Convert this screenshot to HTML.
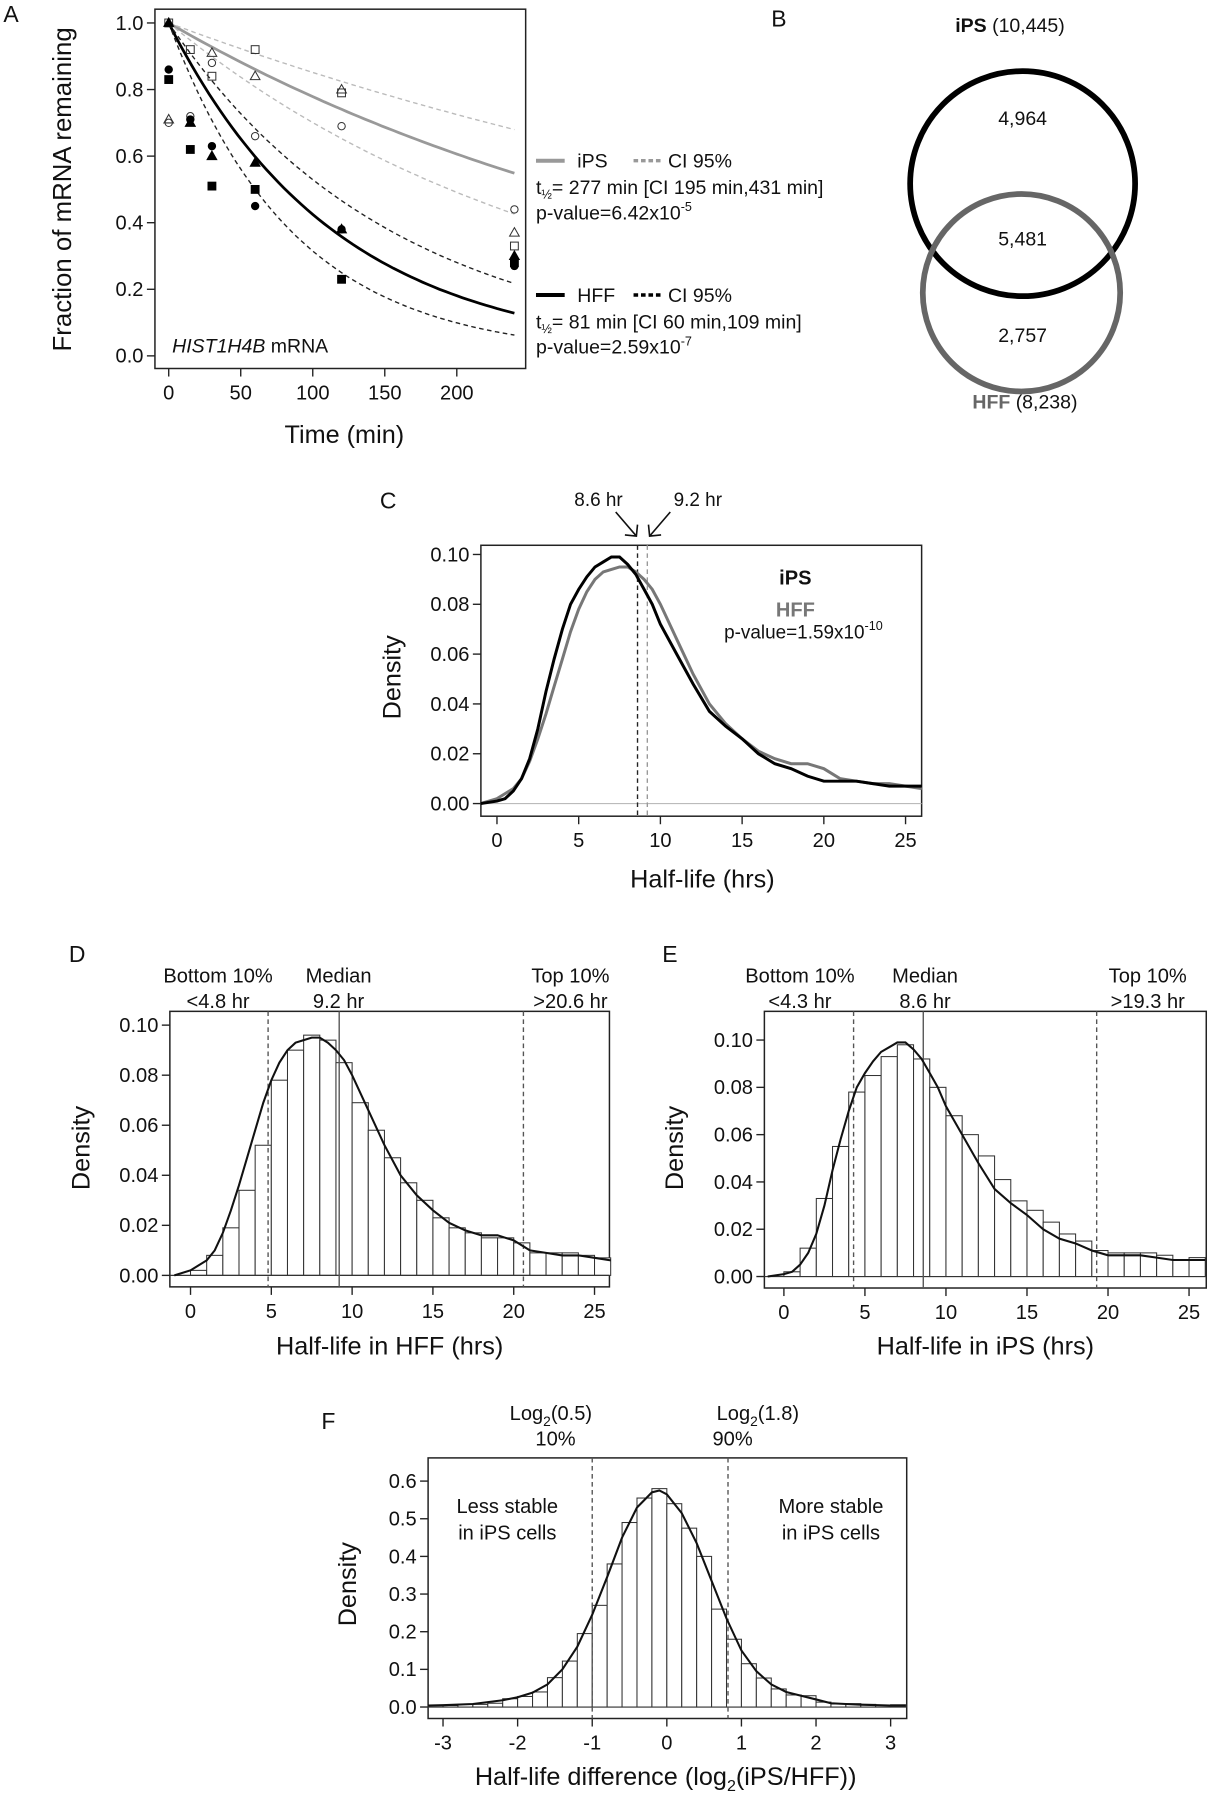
<!DOCTYPE html>
<html><head><meta charset="utf-8"><style>
html,body{margin:0;padding:0;background:#fff;}
svg{display:block;font-family:"Liberation Sans",Arial,sans-serif;}
</style></head><body>
<svg id="fig" width="1212" height="1800" viewBox="0 0 1056 1568" preserveAspectRatio="none" xmlns="http://www.w3.org/2000/svg">
<rect x="0" y="0" width="1056" height="1568" fill="#fff"/>
</svg>
<script>
// ---------- Panel A data ----------
const aTimes = [0, 15, 30, 60, 120, 240];
const aOpenCircle = [0.70, 0.72, 0.88, 0.66, 0.69, 0.44];
const aOpenTriangle = [0.71, 0.70, 0.91, 0.84, 0.80, 0.37];
const aOpenSquare = [1.0, 0.92, 0.84, 0.92, 0.79, 0.33];
const aFillCircle = [0.86, 0.71, 0.63, 0.45, 0.38, 0.27];
const aFillTriangle = [1.0, 0.70, 0.60, 0.58, 0.38, 0.30];
const aFillSquare = [0.83, 0.62, 0.51, 0.50, 0.23, 0.28];
const aHalfLives = [277, 195, 431, 81, 60, 109];
const aXTicks = [0, 50, 100, 150, 200];
const aYTicks = [0.0, 0.2, 0.4, 0.6, 0.8, 1.0];
// ---------- Panel B data ----------
const vennCounts = ["4,964", "5,481", "2,757"];
const vennTotals = ["(10,445)", "(8,238)"];
// ---------- Panel C data ----------
const kdeX = [-1,0,0.5,1,1.5,2,2.5,3,3.5,4,4.5,5,5.5,6,6.5,7,7.5,8,8.5,9,9.5,10,11,12,13,14,15,16,17,18,19,20,21,22,23,24,25,26];
const ipsKde = [0,0.001,0.002,0.005,0.010,0.018,0.030,0.045,0.058,0.070,0.080,0.086,0.091,0.095,0.097,0.099,0.099,0.096,0.092,0.086,0.080,0.072,0.060,0.048,0.037,0.031,0.026,0.020,0.016,0.014,0.011,0.009,0.009,0.009,0.008,0.007,0.007,0.007];
const hffKde = [0,0.002,0.004,0.006,0.010,0.017,0.026,0.036,0.047,0.058,0.069,0.078,0.085,0.090,0.093,0.094,0.095,0.095,0.093,0.090,0.086,0.080,0.066,0.052,0.040,0.032,0.026,0.021,0.018,0.016,0.016,0.014,0.010,0.009,0.008,0.008,0.007,0.006];
const cMedians = [8.6, 9.2];
const halfTicks = [0, 5, 10, 15, 20, 25];
const densTicks = [0.00, 0.02, 0.04, 0.06, 0.08, 0.10];
// ---------- Panel D/E data ----------
const histEdges = [0,1,2,3,4,5,6,7,8,9,10,11,12,13,14,15,16,17,18,19,20,21,22,23,24,25];
const hffHist = [0.002,0.008,0.019,0.034,0.052,0.078,0.090,0.096,0.094,0.085,0.069,0.058,0.047,0.037,0.030,0.023,0.019,0.017,0.015,0.015,0.013,0.009,0.009,0.009,0.008,0.007];
const ipsHist = [0.002,0.012,0.033,0.055,0.078,0.085,0.093,0.098,0.092,0.080,0.068,0.060,0.051,0.041,0.032,0.028,0.023,0.018,0.015,0.011,0.010,0.010,0.010,0.009,0.007,0.008];
const hffLines = [4.8, 9.2, 20.6];
const ipsLines = [4.3, 8.6, 19.3];
// ---------- Panel F data ----------
const fEdges = [-3.2,-3.0,-2.8,-2.6,-2.4,-2.2,-2.0,-1.8,-1.6,-1.4,-1.2,-1.0,-0.8,-0.6,-0.4,-0.2,0,0.2,0.4,0.6,0.8,1.0,1.2,1.4,1.6,1.8,2.0,2.2,2.4,2.6,2.8,3.0];
const fHist = [0.004,0.004,0.007,0.007,0.010,0.022,0.028,0.040,0.078,0.122,0.195,0.270,0.380,0.490,0.555,0.580,0.540,0.475,0.400,0.260,0.180,0.115,0.077,0.048,0.032,0.030,0.013,0.008,0.009,0.007,0.005,0.006];
const fCurveX = [-3.2,-3.0,-2.6,-2.2,-2.0,-1.8,-1.6,-1.4,-1.2,-1.0,-0.8,-0.6,-0.4,-0.2,-0.1,0,0.2,0.4,0.6,0.8,1.0,1.2,1.4,1.6,1.8,2.0,2.2,2.6,3.0,3.2];
const fCurveY = [0.004,0.005,0.008,0.018,0.026,0.038,0.060,0.100,0.160,0.245,0.345,0.450,0.530,0.570,0.575,0.565,0.515,0.435,0.335,0.235,0.150,0.095,0.060,0.040,0.030,0.020,0.010,0.006,0.004,0.004];
const fLines = [-1.0, 0.82];
const fXTicks = [-3,-2,-1,0,1,2,3];
const fYTicks = [0.0,0.1,0.2,0.3,0.4,0.5,0.6];

const NS = "http://www.w3.org/2000/svg";
const svg = document.getElementById('fig');
const TF = 17.5, AF = 22;
function mk(tag, attrs, parent) {
  const e = document.createElementNS(NS, tag);
  for (const k in attrs) e.setAttribute(k, attrs[k]);
  (parent || svg).appendChild(e);
  return e;
}
function txt(x, y, s, size, anchor, parent, extra) {
  const t = mk('text', Object.assign({x: x, y: y, 'font-size': size, 'text-anchor': anchor || 'middle', fill: '#111'}, extra || {}), parent);
  t.textContent = s;
  return t;
}
function scale(d0, d1, r0, r1) { return v => r0 + (v - d0) * (r1 - r0) / (d1 - d0); }

function axes(g, box, sx, sy, xt, yt, xfmt, yfmt, fs) {
  const frame = mk('rect', {x: box.l, y: box.t, width: box.r - box.l, height: box.b - box.t, fill: 'none', stroke: '#222', 'stroke-width': 1.3}, g);
  
  
  const xa = mk('g', {}, g);
  
  
  xt.forEach(v => {
    mk('line', {x1: sx(v), x2: sx(v), y1: box.b, y2: box.b + 7, stroke: '#222', 'stroke-width': 1.2}, xa);
    const t = txt(sx(v), box.b + 27, xfmt(v), fs, 'middle', xa);
    
    
  });
  const ya = mk('g', {}, g);
  
  
  yt.forEach(v => {
    mk('line', {x1: box.l - 7, x2: box.l, y1: sy(v), y2: sy(v), stroke: '#222', 'stroke-width': 1.2}, ya);
    const t = txt(box.l - 10, sy(v) + 6, yfmt(v), fs, 'end', ya);
    
    
  });
}
function ytitle(x, y, s, fs, g) {
  const t = txt(x, y, s, fs, 'middle', g, {transform: 'rotate(-90 ' + x + ' ' + y + ')'});
  
  
  return t;
}
function xtitle(x, y, s, fs, g) {
  const t = txt(x, y, s, fs, 'middle', g);
  
  
  return t;
}
function letter(x, y, s) {
  const t = txt(x, y, s, 20, 'start');
  
  
}
function pathFrom(xs, ys, sx, sy) {
  return xs.map((v, i) => (i ? 'L' : 'M') + sx(v).toFixed(1) + ' ' + sy(ys[i]).toFixed(1)).join(' ');
}
const f1 = v => v.toFixed(1), f2 = v => v.toFixed(2), f0 = v => String(v);

// ================= Panel A =================
(function () {
  letter(3, 19, 'A');
  const g = mk('g', {});
  
  
  const box = {l: 135, r: 458, t: 8, b: 321};
  const sx = scale(0, 200, 147, 398), sy = scale(0, 1, 310, 20);
  axes(g, box, sx, sy, aXTicks, aYTicks, f0, f1, TF);
  ytitle(62, 165, 'Fraction of mRNA remaining', 22.5, g);
  xtitle(300, 386, 'Time (min)', AF, g);
  const styles = [
    {c: '#999', w: 2.4, d: ''}, {c: '#bbb', w: 1.2, d: '4 3'}, {c: '#bbb', w: 1.2, d: '4 3'},
    {c: '#000', w: 2.4, d: ''}, {c: '#222', w: 1.2, d: '4 3'}, {c: '#222', w: 1.2, d: '4 3'}];
  const names = ['ips-fit-curve', 'ips-ci-lower', 'ips-ci-upper', 'hff-fit-curve', 'hff-ci-lower', 'hff-ci-upper'];
  aHalfLives.forEach((h, i) => {
    const xs = [], ys = [];
    for (let t = 0; t <= 240; t += 4) { xs.push(t); ys.push(Math.pow(2, -t / h)); }
    const p = mk('path', {d: pathFrom(xs, ys, sx, sy), fill: 'none', stroke: styles[i].c, 'stroke-width': styles[i].w, 'stroke-dasharray': styles[i].d}, g);
    
    
  });
  function sym(kind, filled, x, y) {
    const f = filled ? '#000' : 'none', s = filled ? '#000' : '#333';
    let e;
    if (kind === 'c') e = mk('circle', {cx: x, cy: y, r: 3.2, fill: f, stroke: s, 'stroke-width': 0.9}, g);
    else if (kind === 's') e = mk('rect', {x: x - 3.4, y: y - 3.4, width: 6.8, height: 6.8, fill: f, stroke: s, 'stroke-width': 0.9}, g);
    else e = mk('path', {d: 'M' + x + ' ' + (y - 4.4) + ' L' + (x + 4.2) + ' ' + (y + 3) + ' L' + (x - 4.2) + ' ' + (y + 3) + ' Z', fill: f, stroke: s, 'stroke-width': 0.9}, g);
    return e;
  }
  const sets = [[aOpenCircle, 'c', false], [aOpenTriangle, 't', false], [aOpenSquare, 's', false],
    [aFillCircle, 'c', true], [aFillTriangle, 't', true], [aFillSquare, 's', true]];
  sets.forEach(st => {
    st[0].forEach((v, i) => {
      const e = sym(st[1], st[2], sx(aTimes[i]), sy(v));
      
      
    });
  });
  const lab = mk('text', {x: 150, y: 307, 'font-size': 17, fill: '#111'}, g);
  
  
  lab.innerHTML = '<tspan font-style="italic">HIST1H4B</tspan> mRNA';
  const lg = mk('g', {}, g);
  
  
  function entry(y, col, name, hl, ci, pv, pe) {
    mk('line', {x1: 467, x2: 492, y1: y - 6, y2: y - 6, stroke: col, 'stroke-width': 3.5}, lg);
    txt(503, y, name, 17, 'start', lg);
    mk('line', {x1: 552, x2: 576, y1: y - 6, y2: y - 6, stroke: col, 'stroke-width': 3, 'stroke-dasharray': '4 2.5'}, lg);
    txt(582, y, 'CI 95%', 17, 'start', lg);
    const t2 = mk('text', {x: 467, y: y + 23, 'font-size': 17, fill: '#111'}, lg);
    t2.innerHTML = 't<tspan font-size="11" dy="4">½</tspan><tspan dy="-4">= ' + hl + ' min [CI ' + ci + ']</tspan>';
    const t3 = mk('text', {x: 467, y: y + 45, 'font-size': 17, fill: '#111'}, lg);
    t3.innerHTML = 'p-value=' + pv + '<tspan font-size="11" dy="-7">' + pe + '</tspan>';
  }
  entry(146, '#999', 'iPS', aHalfLives[0], aHalfLives[1] + ' min,' + aHalfLives[2] + ' min', '6.42x10', '-5');
  entry(263, '#000', 'HFF', aHalfLives[3], aHalfLives[4] + ' min,' + aHalfLives[5] + ' min', '2.59x10', '-7');
})();

// ================= Panel B =================
(function () {
  letter(672, 23, 'B');
  const g = mk('g', {});
  
  
  const c1 = mk('circle', {cx: 891, cy: 160, r: 98, fill: 'none', stroke: '#000', 'stroke-width': 5}, g);
  
  
  const c2 = mk('circle', {cx: 890, cy: 255, r: 86, fill: 'none', stroke: '#666', 'stroke-width': 5}, g);
  
  
  const t1 = mk('text', {x: 880, y: 28, 'font-size': 17, 'text-anchor': 'middle', fill: '#111'}, g);
  
  
  t1.innerHTML = '<tspan font-weight="bold">iPS</tspan> ' + vennTotals[0];
  const t2 = mk('text', {x: 893, y: 356, 'font-size': 17, 'text-anchor': 'middle', fill: '#111'}, g);
  
  
  t2.innerHTML = '<tspan font-weight="bold" fill="#666">HFF</tspan> ' + vennTotals[1];
  [[109, 'ips-only-count'], [214, 'overlap-count'], [298, 'hff-only-count']].forEach((p, i) => {
    const t = txt(891, p[0], vennCounts[i], 17, 'middle', g);
    
    
  });
})();

// ================= Panel C =================
(function () {
  letter(331, 443, 'C');
  const g = mk('g', {});
  
  
  const box = {l: 419, r: 803, t: 475, b: 711};
  const sx = scale(0, 25, 433, 789), sy = scale(0, 0.1, 700, 483);
  axes(g, box, sx, sy, halfTicks, densTicks, f0, f2, TF);
  ytitle(349, 590, 'Density', AF, g);
  xtitle(612, 773, 'Half-life (hrs)', AF, g);
  mk('line', {x1: box.l, x2: box.r, y1: sy(0), y2: sy(0), stroke: '#bbb', 'stroke-width': 1}, g);
  const l1 = mk('line', {x1: sx(cMedians[0]), x2: sx(cMedians[0]), y1: box.t, y2: box.b, stroke: '#222', 'stroke-width': 1.2, 'stroke-dasharray': '4 3'}, g);
  
  
  const l2 = mk('line', {x1: sx(cMedians[1]), x2: sx(cMedians[1]), y1: box.t, y2: box.b, stroke: '#999', 'stroke-width': 1.2, 'stroke-dasharray': '4 3'}, g);
  
  
  const p2 = mk('path', {d: pathFrom(kdeX, hffKde, sx, sy), fill: 'none', stroke: '#777', 'stroke-width': 2.6}, g);
  
  
  const p1 = mk('path', {d: pathFrom(kdeX, ipsKde, sx, sy), fill: 'none', stroke: '#000', 'stroke-width': 2.6}, g);
  
  
  const a1 = txt(sx(cMedians[0]) - 34, 441, cMedians[0] + ' hr', 16.5, 'middle', g);
  
  
  const a2 = txt(sx(cMedians[1]) + 44, 441, cMedians[1] + ' hr', 16.5, 'middle', g);
  
  
  const ax = sx(cMedians[0]) - 1, bx = sx(cMedians[1]) + 2;
  mk('path', {d: 'M' + (ax - 18) + ' 446 L' + ax + ' 467 M' + (ax - 10) + ' 466 L' + ax + ' 467 L' + (ax + 1) + ' 457', fill: 'none', stroke: '#111', 'stroke-width': 1.4}, g);
  mk('path', {d: 'M' + (bx + 18) + ' 446 L' + bx + ' 467 M' + (bx + 10) + ' 466 L' + bx + ' 467 L' + (bx - 1) + ' 457', fill: 'none', stroke: '#111', 'stroke-width': 1.4}, g);
  const lgi = txt(693, 509, 'iPS', 17.5, 'middle', g, {'font-weight': 'bold'});
  
  
  const lgh = txt(693, 537, 'HFF', 17.5, 'middle', g, {'font-weight': 'bold', fill: '#777'});
  
  
  const pv = mk('text', {x: 700, y: 556, 'font-size': 16.5, 'text-anchor': 'middle', fill: '#111'}, g);
  
  
  pv.innerHTML = 'p-value=1.59x10<tspan font-size="11" dy="-7">-10</tspan>';
})();

// ================= Panels D & E =================
function histPanel(id, box, sx, sy, hist, curve, lines, xlab, ylx, labs) {
  const g = mk('g', {});
  
  
  axes(g, box, sx, sy, halfTicks, densTicks, f0, f2, TF);
  ytitle(ylx, 1000, 'Density', AF, g);
  xtitle((box.l + box.r) / 2, 1180, xlab, AF, g);
  hist.forEach((v, i) => {
    const x0 = sx(histEdges[i]), x1 = sx(histEdges[i] + 1);
    const r = mk('rect', {x: x0, y: sy(v), width: x1 - x0, height: sy(0) - sy(v), fill: '#fff', stroke: '#333', 'stroke-width': 0.9}, g);
    
    
  });
  mk('line', {x1: box.l, x2: box.r, y1: sy(0), y2: sy(0), stroke: '#333', 'stroke-width': 1}, g);
  lines.forEach((v, i) => {
    const l = mk('line', {x1: sx(v), x2: sx(v), y1: box.t, y2: box.b, stroke: '#555', 'stroke-width': 1.2, 'stroke-dasharray': i === 1 ? '' : '4 3'}, g);
    
    
  });
  const c = mk('path', {d: pathFrom(kdeX, curve, sx, sy), fill: 'none', stroke: '#111', 'stroke-width': 1.8}, g);
  
  
  labs.forEach(L => {
    const a = txt(L[0], 856, L[1], 17.5, 'middle', g);
    
    
    const b = txt(L[0], 878, L[2], 17.5, 'middle', g);
    
    
  });
}
letter(60, 838, 'D');
histPanel('panel-d-hff-histogram', {l: 148, r: 531, t: 881, b: 1121}, scale(0, 25, 166, 518), scale(0, 0.1, 1111, 893), hffHist, hffKde, hffLines, 'Half-life in HFF (hrs)', 78,
  [[190, 'Bottom 10%', '<' + hffLines[0] + ' hr'], [295, 'Median', hffLines[1] + ' hr'], [497, 'Top 10%', '>' + hffLines[2] + ' hr']]);
letter(577, 838, 'E');
histPanel('panel-e-ips-histogram', {l: 666, r: 1051, t: 881, b: 1122}, scale(0, 25, 683, 1036), scale(0, 0.1, 1112, 906), ipsHist, ipsKde, ipsLines, 'Half-life in iPS (hrs)', 595,
  [[697, 'Bottom 10%', '<' + ipsLines[0] + ' hr'], [806, 'Median', ipsLines[1] + ' hr'], [1000, 'Top 10%', '>' + ipsLines[2] + ' hr']]);

// ================= Panel F =================
(function () {
  letter(280, 1245, 'F');
  const g = mk('g', {});
  
  
  const box = {l: 373, r: 790, t: 1270, b: 1497};
  const sx = scale(0, 1, 581, 646), sy = scale(0, 0.1, 1487, 1454.2);
  axes(g, box, sx, sy, fXTicks, fYTicks, f0, f1, TF);
  ytitle(310, 1380, 'Density', AF, g);
  const xt = mk('text', {x: 580, y: 1555, 'font-size': AF, 'text-anchor': 'middle', fill: '#111'}, g);
  
  
  xt.innerHTML = 'Half-life difference (log<tspan font-size="14" dy="5">2</tspan><tspan dy="-5">(iPS/HFF))</tspan>';
  fHist.forEach((v, i) => {
    const x0 = sx(fEdges[i]), x1 = sx(fEdges[i] + 0.2);
    const r = mk('rect', {x: x0, y: sy(v), width: x1 - x0, height: sy(0) - sy(v), fill: '#fff', stroke: '#333', 'stroke-width': 0.9}, g);
    
    
  });
  mk('line', {x1: box.l, x2: box.r, y1: sy(0), y2: sy(0), stroke: '#333', 'stroke-width': 1}, g);
  fLines.forEach(v => {
    const l = mk('line', {x1: sx(v), x2: sx(v), y1: box.t, y2: box.b, stroke: '#555', 'stroke-width': 1.2, 'stroke-dasharray': '4 3'}, g);
    
    
  });
  const c = mk('path', {d: pathFrom(fCurveX, fCurveY, sx, sy), fill: 'none', stroke: '#111', 'stroke-width': 1.8}, g);
  
  
  [[sx(fLines[0]) - 36, 'Log', '(0.5)', '10%', 0], [sx(fLines[1]) + 26, 'Log', '(1.8)', '90%', 1]].forEach(L => {
    const t = mk('text', {x: L[0], y: 1237, 'font-size': 17.5, 'text-anchor': 'middle', fill: '#111'}, g);
    
    
    t.innerHTML = L[1] + '<tspan font-size="12" dy="5">2</tspan><tspan dy="-5">' + L[2] + '</tspan>';
    const p = txt(L[4] ? L[0] - 22 : L[0] + 4, 1259, L[3], 17.5, 'middle', g);
    
    
  });
  [[442, 'Less stable', 'in iPS cells'], [724, 'More stable', 'in iPS cells']].forEach(L => {
    const a = txt(L[0], 1318, L[1], 17.5, 'middle', g);
    
    
    const b = txt(L[0], 1341, L[2], 17.5, 'middle', g);
    
    
  });
})();
</script>
</body></html>
